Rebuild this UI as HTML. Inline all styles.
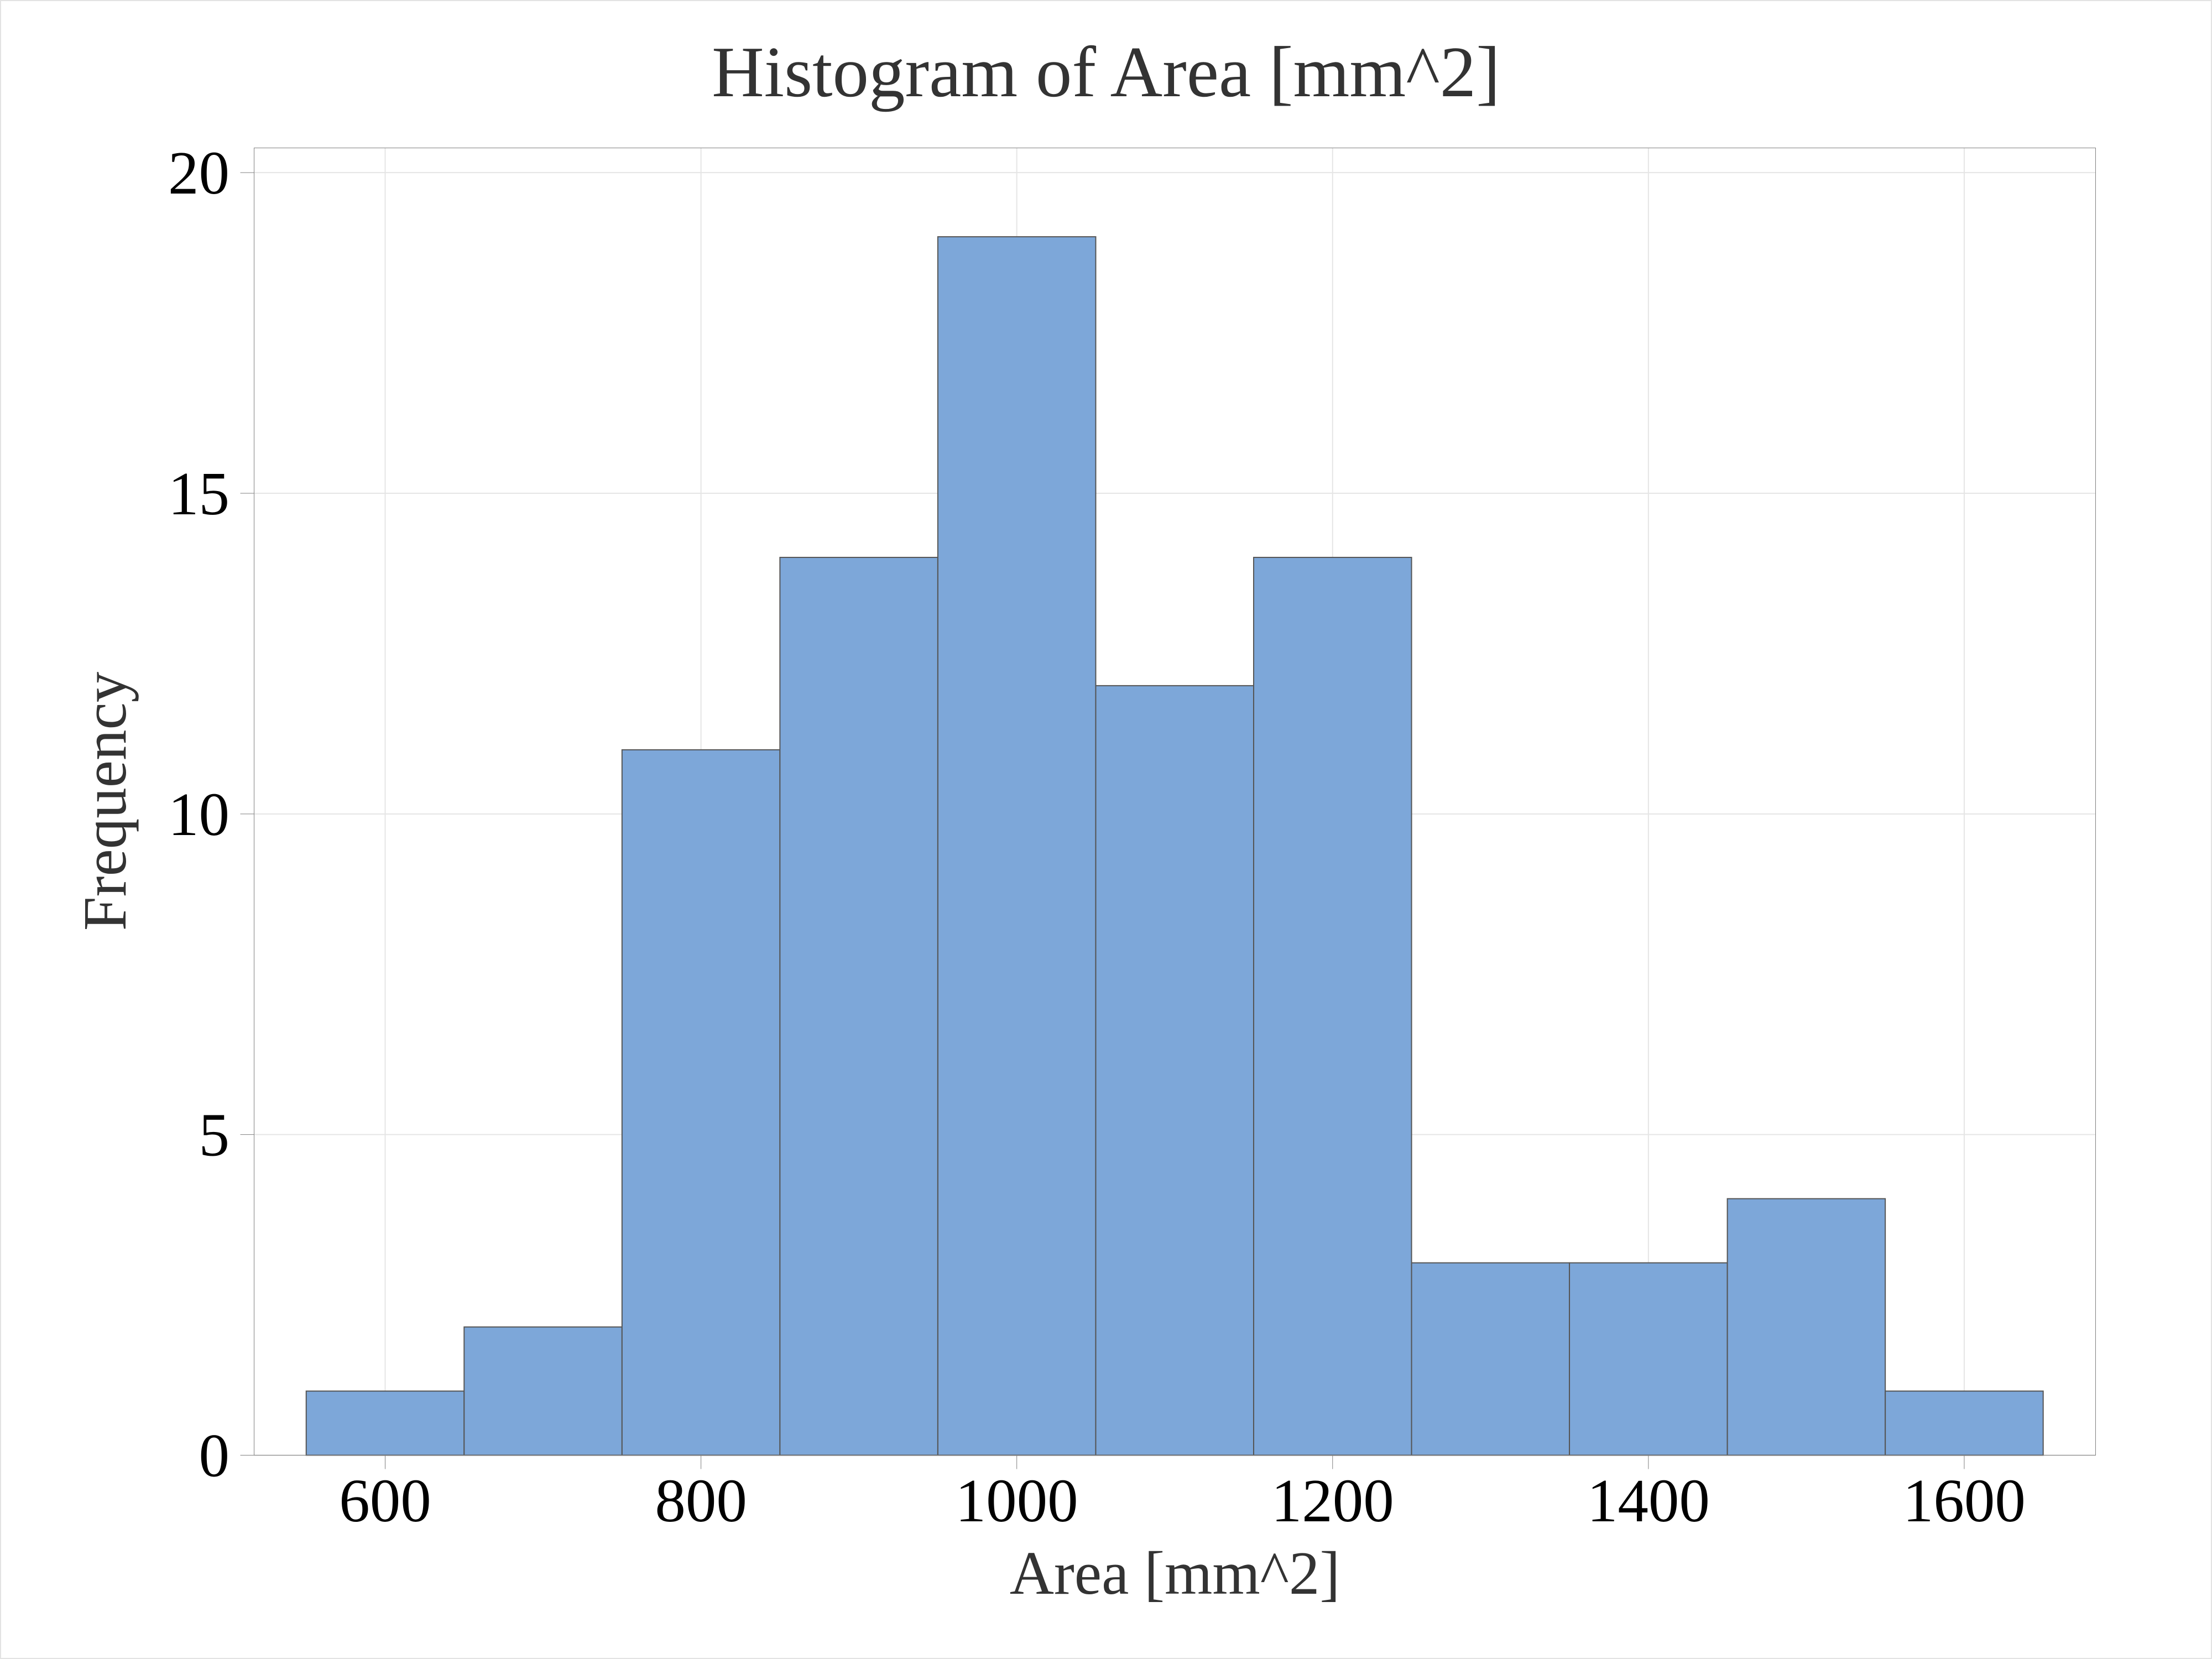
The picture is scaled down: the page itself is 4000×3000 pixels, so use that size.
<!DOCTYPE html>
<html lang="en">
<head>
<meta charset="utf-8">
<title>Histogram of Area [mm^2]</title>
<style>
  html, body { margin: 0; padding: 0; background: #fff; }
  #chart { display: block; width: 4000px; height: 3000px; }
  text { font-family: "Liberation Serif", "Times New Roman", serif; }
</style>
</head>
<body>
<svg id="chart" xmlns="http://www.w3.org/2000/svg" width="4000" height="3000" viewBox="0 0 4000 3000">
  <rect x="0" y="0" width="4000" height="3000" fill="#ffffff"/>
  <rect x="1" y="1" width="3998" height="2998" fill="none" stroke="#e3e3e3" stroke-width="2"/>
  <g id="grid"></g>
  <g id="bars"></g>
  <rect id="plot-frame" fill="none" stroke="#808080" stroke-width="1"/>
  <g id="ticks"></g>
  <g id="x-labels" font-size="111" fill="#000000" text-anchor="middle"></g>
  <g id="y-labels" font-size="111" fill="#000000" text-anchor="end"></g>
  <text x="2000" y="174" font-size="131" fill="#333333" text-anchor="middle">Histogram of Area [mm^2]</text>
  <text x="2124.5" y="2882" font-size="111" fill="#333333" text-anchor="middle">Area [mm^2]</text>
  <text transform="translate(227,1449) rotate(-90)" font-size="111" fill="#333333" text-anchor="middle">Frequency</text>
</svg>
<script>
const binStarts = [550, 650, 750, 850, 950, 1050, 1150, 1250, 1350, 1450, 1550];
const binWidth = 100;
const counts = [1, 2, 11, 14, 19, 12, 14, 3, 3, 4, 1];
const xTicks = [600, 800, 1000, 1200, 1400, 1600];
const yTicks = [0, 5, 10, 15, 20];
const xDomain = [517, 1683.2];
const yDomain = [0, 20.385];

const NS = 'http://www.w3.org/2000/svg';
const plot = { left: 459.5, right: 3789.5, top: 267.5, bottom: 2631.5 };
const tickLen = 25;

function xScale(v) {
  return plot.left + (v - xDomain[0]) / (xDomain[1] - xDomain[0]) * (plot.right - plot.left);
}
function yScale(v) {
  return plot.bottom - (v - yDomain[0]) / (yDomain[1] - yDomain[0]) * (plot.bottom - plot.top);
}
function make(tag, attrs, parent) {
  const el = document.createElementNS(NS, tag);
  for (const k in attrs) el.setAttribute(k, attrs[k]);
  parent.appendChild(el);
  return el;
}

const gridG = document.getElementById('grid');
const barsG = document.getElementById('bars');
const ticksG = document.getElementById('ticks');
const xLabelsG = document.getElementById('x-labels');
const yLabelsG = document.getElementById('y-labels');

const frame = document.getElementById('plot-frame');
frame.setAttribute('x', plot.left);
frame.setAttribute('y', plot.top);
frame.setAttribute('width', plot.right - plot.left);
frame.setAttribute('height', plot.bottom - plot.top);

xTicks.forEach(function (t) {
  const x = xScale(t);
  const g = make('line', { x1: x, x2: x, y1: plot.top, y2: plot.bottom, stroke: '#e5e5e5', 'stroke-width': 2 }, gridG);
  
  
  const m = make('line', { x1: x, x2: x, y1: plot.bottom, y2: plot.bottom + tickLen, stroke: '#808080', 'stroke-width': 1 }, ticksG);
  
  
  const l = make('text', { x: x, y: plot.bottom + 119.5 }, xLabelsG);
  
  
  l.textContent = String(t);
});

yTicks.forEach(function (t) {
  const y = yScale(t);
  const g = make('line', { x1: plot.left, x2: plot.right, y1: y, y2: y, stroke: '#e5e5e5', 'stroke-width': 2 }, gridG);
  
  
  const m = make('line', { x1: plot.left - tickLen, x2: plot.left, y1: y, y2: y, stroke: '#808080', 'stroke-width': 1 }, ticksG);
  
  
  const l = make('text', { x: 415, y: y + 38 }, yLabelsG);
  
  
  l.textContent = String(t);
});

counts.forEach(function (c, i) {
  const x0 = xScale(binStarts[i]);
  const x1 = xScale(binStarts[i] + binWidth);
  const y1 = yScale(c);
  const b = make('rect', {
    x: x0, y: y1, width: x1 - x0, height: yScale(0) - y1,
    fill: '#7da7d9', stroke: '#555555', 'stroke-width': 2
  }, barsG);
  
  
});
</script>
</body>
</html>
